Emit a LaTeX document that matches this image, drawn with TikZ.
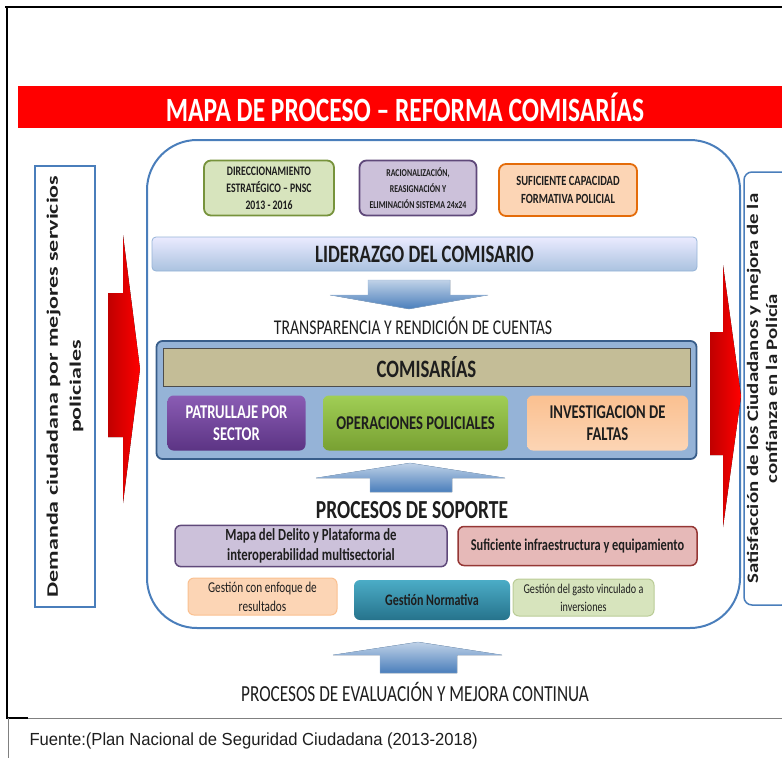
\documentclass[tikz,border=0pt]{standalone}
\usepackage{fontspec}
\setmainfont[FakeStretch=0.75]{Carlito}
\newfontfamily\demandfont[FakeStretch=1.5]{Carlito}
\newfontfamily\satisfont[FakeStretch=1.3]{Carlito}
\newfontfamily\srcfont[FakeStretch=0.95]{Liberation Sans}
\usepackage{tikz}
\usetikzlibrary{positioning, calc}
\definecolor{frameblue}{RGB}{74,126,187}
\definecolor{titlered}{RGB}{255,0,0}
\definecolor{darkred}{RGB}{192,0,0}
\definecolor{olive}{RGB}{119,147,60}
\definecolor{palegreen}{RGB}{215,228,189}
\definecolor{plum}{RGB}{95,73,122}
\definecolor{lavender}{RGB}{204,193,218}
\definecolor{burnt}{RGB}{228,108,10}
\definecolor{peach}{RGB}{252,213,181}
\definecolor{apricot}{RGB}{250,192,144}
\definecolor{tan}{RGB}{196,189,151}
\definecolor{midblue}{RGB}{149,179,215}
\definecolor{navy}{RGB}{56,93,138}
\definecolor{rose}{RGB}{230,185,184}
\definecolor{maroon}{RGB}{149,55,53}
\definecolor{tealtop}{RGB}{75,172,198}
\definecolor{tealbot}{RGB}{38,115,140}
\definecolor{violettop}{RGB}{138,92,180}
\definecolor{violetbot}{RGB}{92,52,132}
\definecolor{limetop}{RGB}{160,206,85}
\definecolor{limebot}{RGB}{120,160,50}
\definecolor{textgray}{RGB}{30,30,30}

\begin{document}
\begin{tikzpicture}[
    x=1pt, y=-1pt,
    every node/.style={text=textgray},
    topbox/.style={rounded corners=7pt, line width=1.8pt, align=center, font=\bfseries\fontsize{13}{17}\selectfont},
    bar/.style={rounded corners=4pt, align=center, font=\bfseries\fontsize{25}{28}\selectfont},
    taskbox/.style={rounded corners=6pt, align=center, font=\bfseries\fontsize{19.5}{22}\selectfont},
    supbox/.style={rounded corners=6pt, line width=1.5pt, align=center, font=\fontsize{15}{19}\selectfont},
    sidebox/.style={line width=1.5pt, draw=frameblue, fill=white},
    sidetext/.style={rotate=90, align=center, font=\bfseries\fontsize{16}{23}\selectfont},
    flatarrow/.style={top color=frameblue!35, bottom color=frameblue, draw=frameblue!60, line width=0.4pt},
    redarrow/.style={left color=darkred, right color=titlered, draw=none}
]
\useasboundingbox (0,0) rectangle (782,758);
\clip (0,0) rectangle (782,758);

% frame and title
\draw[line width=2.5pt] (5,7) -- (782,7);
\draw[line width=2.5pt] (7,6) -- (7,718) -- (28,718);
\draw[gray, line width=0.8pt] (28,718) -- (782,718);
\draw[gray, line width=0.8pt] (8,718) -- (8,758);
\fill[titlered] (18,86) rectangle (782,128);
\node[text=white, font=\bfseries\fontsize{34}{36}\selectfont] (titulo) at (405,107) {MAPA DE PROCESO – REFORMA COMISARÍAS};

% main process container
\node[draw=frameblue, line width=2pt, rounded corners=50pt, minimum width=593pt, minimum height=488pt] (mapa) at (443.5,384) {};

% side boxes
\node[sidebox, rotate=90, minimum width=441pt, minimum height=60pt] (demanda) at (65,386.5) {};
\node[sidetext, font=\demandfont\bfseries\fontsize{16}{23}\selectfont] (demandatxt) at (demanda.center) {Demanda ciudadana por mejores servicios\\policiales};
\node[sidebox, rotate=90, rounded corners=8pt, minimum width=433pt, minimum height=46pt] (satisf) at (767,388.5) {};
\node[sidetext, font=\satisfont\bfseries\fontsize{16}{19}\selectfont] (satisftxt) at ($(satisf.center)+(-5,0)$) {Satisfacción de los Ciudadanos y mejora de la\\confianza en la Policía};

% red input / output arrows
\fill[redarrow] (108,293) -- (123,293) -- (123,235) -- (140,369) -- (123,503) -- (123,437) -- (108,437) -- cycle;
\fill[redarrow] (710,332) -- (723,332) -- (723,265) -- (741,396) -- (723,527) -- (723,455) -- (710,455) -- cycle;

% strategic processes
\node[topbox, draw=olive, fill=palegreen, minimum width=130pt, minimum height=55pt] (direcc) at (269,188) {DIRECCIONAMIENTO\\ESTRATÉGICO – PNSC\\2013 - 2016};
\node[topbox, draw=plum, fill=lavender, minimum width=117pt, minimum height=55pt, font=\bfseries\fontsize{10.5}{16}\selectfont] (racional) at (418,188) {RACIONALIZACIÓN,\\REASIGNACIÓN Y\\ELIMINACIÓN SISTEMA 24x24};
\node[topbox, draw=burnt, fill=peach, minimum width=138pt, minimum height=52pt, font=\bfseries\fontsize{14}{18}\selectfont] (capac) at (568,190) {SUFICIENTE CAPACIDAD\\FORMATIVA POLICIAL};
\node[bar, draw=midblue, line width=0.8pt, top color=blue!8, bottom color=midblue!80, minimum width=545pt, minimum height=34pt] (lider) at (424.5,254) {LIDERAZGO DEL COMISARIO};

\fill[flatarrow, shift={(409,280)}] (-41,0) -- (41,0) -- (41,15) -- (79,15) -- (0,29) -- (-79,15) -- (-41,15) -- cycle;
\node[font=\fontsize{21}{23}\selectfont] (transp) at (413,326) {TRANSPARENCIA Y RENDICIÓN DE CUENTAS};

% operational processes
\node[draw=navy, line width=1.8pt, fill=midblue, rounded corners=6pt, minimum width=540pt, minimum height=118pt] (comis) at (426.5,400) {};
\node[bar, draw=black!70, line width=0.8pt, fill=tan, rounded corners=0pt, minimum width=527pt, minimum height=38pt] (comisbar) at (426.5,367) {COMISARÍAS};
\node[taskbox, text=white, top color=violettop, bottom color=violetbot, minimum width=138pt, minimum height=55pt] (patrul) at (236.5,423) {PATRULLAJE POR\\SECTOR};
\node[taskbox, top color=limetop, bottom color=limebot, minimum width=185pt, minimum height=55pt] (operac) at (415.5,423) {OPERACIONES POLICIALES};
\node[taskbox, top color=apricot, bottom color=peach, minimum width=161pt, minimum height=55pt] (invest) at (607.5,423) {INVESTIGACION DE\\FALTAS};

% support processes
\fill[flatarrow, shift={(410,492)}, yscale=-1] (-40,0) -- (42,0) -- (42,14) -- (95,14) -- (0,29) -- (-94,14) -- (-40,14) -- cycle;
\node[font=\bfseries\fontsize{26}{28}\selectfont] (soporte) at (412,510) {PROCESOS DE SOPORTE};
\node[supbox, draw=plum, fill=lavender, minimum width=272pt, minimum height=39pt, font=\bfseries\fontsize{17}{20}\selectfont] (delito) at (311,546) {Mapa del Delito y Plataforma de\\interoperabilidad multisectorial};
\node[supbox, draw=maroon, fill=rose, minimum width=239pt, minimum height=39pt, font=\bfseries\fontsize{16.5}{19}\selectfont] (infra) at (577.5,546) {Suficiente infraestructura y equipamiento};
\node[supbox, draw=apricot, line width=1pt, fill=peach, minimum width=149pt, minimum height=37pt] (enfoque) at (262.5,596.5) {Gestión con enfoque de\\resultados};
\node[supbox, top color=tealtop, bottom color=tealbot, minimum width=156pt, minimum height=40pt, font=\bfseries\fontsize{16}{19}\selectfont] (normat) at (432,600) {Gestión Normativa};
\node[supbox, draw=palegreen!70!olive, line width=1pt, fill=palegreen, minimum width=141pt, minimum height=37pt, font=\fontsize{13.5}{18}\selectfont] (gasto) at (583.5,597.5) {Gestión del gasto vinculado a\\inversiones};

% evaluation
\fill[flatarrow, shift={(418,673)}, yscale=-1] (-38,0) -- (39,0) -- (39,18) -- (84,18) -- (0,31) -- (-85,18) -- (-38,18) -- cycle;
\node[font=\fontsize{23}{25}\selectfont] (evalua) at (415,692) {PROCESOS DE EVALUACIÓN Y MEJORA CONTINUA};

\node[anchor=west, font=\srcfont\fontsize{17.5}{20}\selectfont] (fuente) at (26,741) {Fuente:(Plan Nacional de Seguridad Ciudadana (2013-2018)};
\end{tikzpicture}
\end{document}
